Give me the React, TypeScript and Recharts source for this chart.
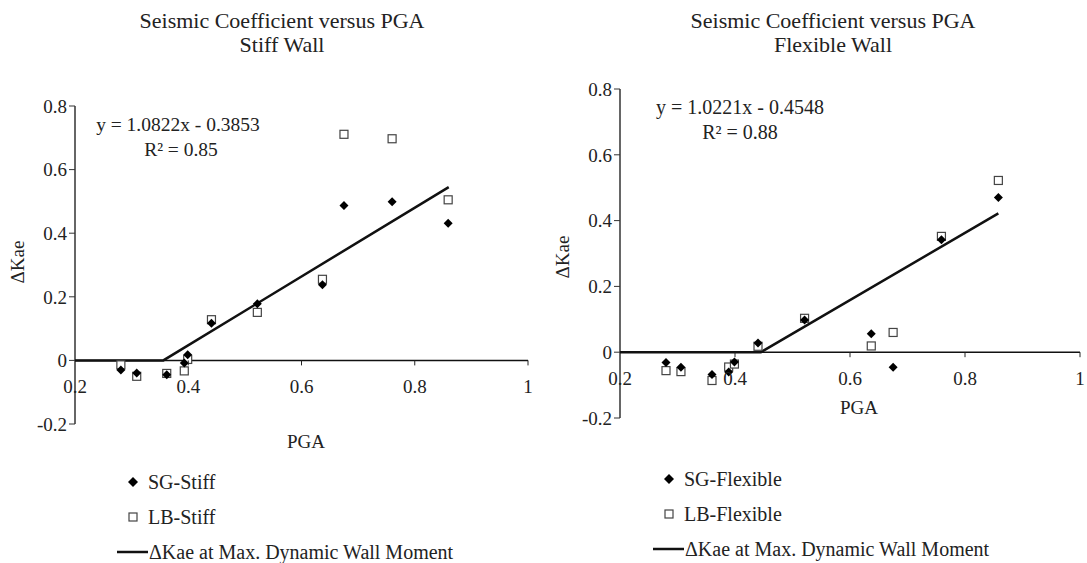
import React from "react";
import { ScatterChart, Scatter, XAxis, YAxis, ReferenceLine } from "recharts";

const FONT = '"Liberation Serif", "Times New Roman", serif';

// Stiff wall
const pgaStiff = [0.281, 0.309, 0.362, 0.393, 0.399, 0.441, 0.522, 0.637, 0.675, 0.76, 0.859];
const sgStiff = [-0.03, -0.04, -0.045, -0.008, 0.018, 0.117, 0.178, 0.238, 0.487, 0.499, 0.431];
const lbStiff = [-0.014, -0.05, -0.041, -0.033, 0.003, 0.128, 0.151, 0.255, 0.711, 0.697, 0.505];
const trendStiffX = [0.2, 0.356, 0.86];
const trendStiffY = [0, 0, 0.545];

// Flexible wall
const pgaFlex = [0.28, 0.306, 0.36, 0.389, 0.399, 0.44, 0.521, 0.637, 0.675, 0.759, 0.858];
const sgFlex = [-0.031, -0.046, -0.068, -0.06, -0.03, 0.028, 0.098, 0.056, -0.046, 0.342, 0.47];
const lbFlex = [-0.056, -0.059, -0.086, -0.045, -0.036, 0.018, 0.103, 0.019, 0.06, 0.352, 0.522];
const trendFlexX = [0.2, 0.445, 0.858];
const trendFlexY = [0, 0, 0.422];

const xTicks = [0.2, 0.4, 0.6, 0.8, 1];
const yTicks = [-0.2, 0, 0.2, 0.4, 0.6, 0.8];

const zip = (xs: number[], ys: number[]) => xs.map((x, i) => ({ x, y: ys[i] }));

const Diamond = (p: any) => {
  const { cx, cy } = p;
  const r = 4.5;
  return <polygon points={`${cx},${cy - r} ${cx + r},${cy} ${cx},${cy + r} ${cx - r},${cy}`} fill="#000" />;
};

const Square = (p: any) => {
  const { cx, cy } = p;
  return <rect x={cx - 4} y={cy - 4} width={8} height={8} fill="#fff" stroke="#444" strokeWidth={1.2} />;
};

const NoShape = () => null;

type PanelProps = {
  left: number;
  width: number;
  height: number;
  margin: { top: number; right: number; bottom: number; left: number };
  sg: { x: number; y: number }[];
  lb: { x: number; y: number }[];
  trend: { x: number; y: number }[];
  labelDy: number;
};

function Panel({ left, width, height, margin, sg, lb, trend, labelDy }: PanelProps) {
  const plotH = height - margin.top - margin.bottom - 1;
  const zeroY = margin.top + plotH * 0.8;
  const XTick = (props: any) => {
    const { x, payload } = props;
    return (
      <g>
        {payload.value !== 0.2 && <line x1={x} x2={x} y1={zeroY} y2={zeroY + 5} stroke="#222" />}
        <text x={x} y={zeroY + labelDy} textAnchor="middle" fontSize={19} fontFamily={FONT} fill="#222">
          {String(payload.value)}
        </text>
      </g>
    );
  };
  return (
    <div style={{ position: "absolute", left, top: 0 }}>
      <ScatterChart width={width} height={height} margin={margin}>
        <XAxis
          type="number"
          dataKey="x"
          domain={[0.2, 1]}
          ticks={xTicks}
          axisLine={false}
          tickLine={false}
          height={1}
          tick={XTick}
          interval={0}
        />
        <YAxis
          type="number"
          dataKey="y"
          domain={[-0.2, 0.8]}
          ticks={yTicks}
          width={40}
          axisLine={{ stroke: "#333", strokeWidth: 1.5 }}
          tickLine={{ stroke: "#333" }}
          tickSize={6}
          tick={{ fontSize: 19, fontFamily: FONT, fill: "#222" }}
          interval={0}
        />
        <ReferenceLine y={0} stroke="#111" strokeWidth={1.5} />
        <Scatter data={trend} line={{ stroke: "#111", strokeWidth: 2.5 }} shape={NoShape} isAnimationActive={false} />
        <Scatter data={lb} shape={Square} isAnimationActive={false} />
        <Scatter data={sg} shape={Diamond} isAnimationActive={false} />
      </ScatterChart>
    </div>
  );
}

const txt = (style: React.CSSProperties): React.CSSProperties => ({
  position: "absolute",
  fontFamily: FONT,
  color: "#222",
  whiteSpace: "nowrap",
  lineHeight: 1,
  ...style,
});

function LegendBlock({ left, top, sgName, lbName }: { left: number; top: number; sgName: string; lbName: string }) {
  return (
    <>
      <svg style={{ position: "absolute", left: left + 8, top: top - 7 }} width={14} height={14}>
        <polygon points="7,2 12,7 7,12 2,7" fill="#000" />
      </svg>
      <div style={txt({ left: left + 30, top: top - 10, fontSize: 20 })}>{sgName}</div>
      <svg style={{ position: "absolute", left: left + 8, top: top + 28 }} width={14} height={14}>
        <rect x={3} y={3} width={8} height={8} fill="#fff" stroke="#444" strokeWidth={1.2} />
      </svg>
      <div style={txt({ left: left + 30, top: top + 25, fontSize: 20 })}>{lbName}</div>
      <svg style={{ position: "absolute", left: left - 1, top: top + 66 }} width={32} height={8}>
        <line x1={0} x2={31} y1={4} y2={4} stroke="#111" strokeWidth={2.5} />
      </svg>
      <div style={txt({ left: left + 31, top: top + 60, fontSize: 20 })}>ΔKae at Max. Dynamic Wall Moment</div>
    </>
  );
}

export default function App() {
  return (
    <div style={{ position: "fixed", left: 0, top: 0, width: 1087, height: 563, background: "#fff", overflow: "hidden" }}>
      <Panel
        left={0}
        width={543}
        height={563}
        margin={{ top: 106, right: 15, bottom: 138, left: 35 }}
        sg={zip(pgaStiff, sgStiff)}
        lb={zip(pgaStiff, lbStiff)}
        trend={zip(trendStiffX, trendStiffY)}
        labelDy={33}
      />
      <Panel
        left={543}
        width={544}
        height={563}
        margin={{ top: 89, right: 7, bottom: 144, left: 37 }}
        sg={zip(pgaFlex, sgFlex)}
        lb={zip(pgaFlex, lbFlex)}
        trend={zip(trendFlexX, trendFlexY)}
        labelDy={33}
      />

      <div style={txt({ left: 282, top: 9, fontSize: 22, transform: "translateX(-50%)", textAlign: "center", lineHeight: "24px" })}>
        Seismic Coefficient versus PGA
        <br />
        Stiff Wall
      </div>
      <div style={txt({ left: 833, top: 9, fontSize: 22, transform: "translateX(-50%)", textAlign: "center", lineHeight: "24px" })}>
        Seismic Coefficient versus PGA
        <br />
        Flexible Wall
      </div>

      <div style={txt({ left: 178, top: 115, fontSize: 19.5, transform: "translateX(-50%)" })}>y = 1.0822x - 0.3853</div>
      <div style={txt({ left: 181, top: 140, fontSize: 19.5, transform: "translateX(-50%)" })}>R² = 0.85</div>
      <div style={txt({ left: 740, top: 97, fontSize: 20, transform: "translateX(-50%)" })}>y = 1.0221x - 0.4548</div>
      <div style={txt({ left: 740, top: 122, fontSize: 20, transform: "translateX(-50%)" })}>R² = 0.88</div>

      <div style={txt({ left: 17, top: 262, fontSize: 19, transform: "translate(-50%, -50%) rotate(-90deg)" })}>ΔKae</div>
      <div style={txt({ left: 562, top: 257, fontSize: 19, transform: "translate(-50%, -50%) rotate(-90deg)" })}>ΔKae</div>

      <div style={txt({ left: 306, top: 432, fontSize: 19, transform: "translateX(-50%)" })}>PGA</div>
      <div style={txt({ left: 859, top: 398, fontSize: 19, transform: "translateX(-50%)" })}>PGA</div>

      <LegendBlock left={118} top={482} sgName="SG-Stiff" lbName="LB-Stiff" />
      <LegendBlock left={654} top={479} sgName="SG-Flexible" lbName="LB-Flexible" />
    </div>
  );
}
